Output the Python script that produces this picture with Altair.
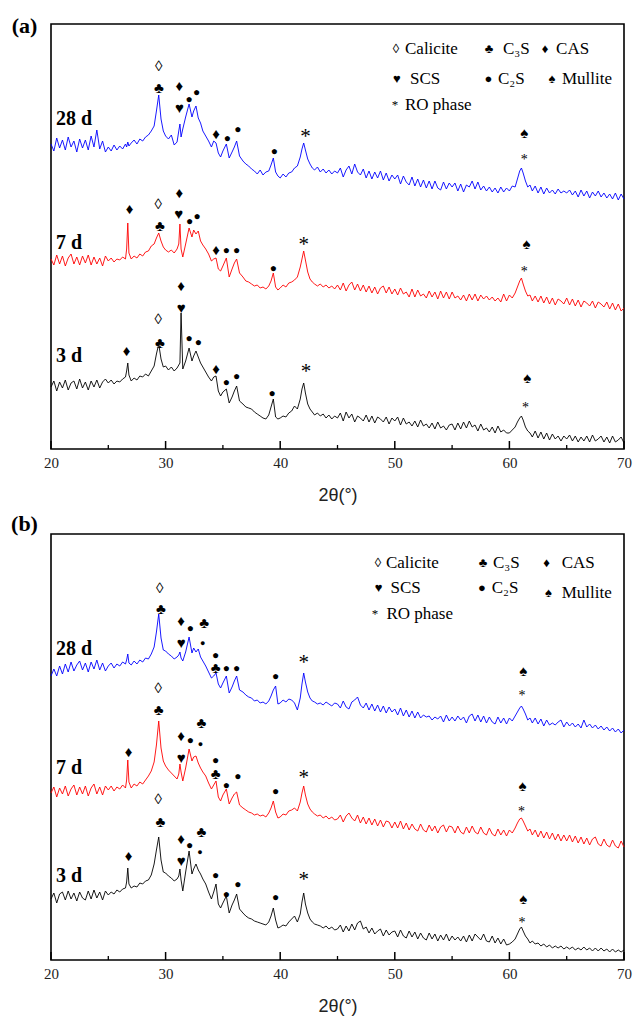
import altair as alt
import pandas as pd

# ---------------- shared 2-theta sampling positions (degrees) ----------------
TWO_THETA = [
    20.0, 20.25, 20.5, 20.75, 21.0, 21.25, 21.5, 21.75, 22.0, 22.25,
    22.5, 22.75, 23.0, 23.25, 23.5, 23.75, 24.0, 24.25, 24.5, 24.75,
    25.0, 25.25, 25.5, 25.75, 26.0, 26.25, 26.5, 26.6, 26.7, 26.8,
    27.0, 27.25, 27.5, 27.75, 28.0, 28.25, 28.5, 28.75, 29.0, 29.2, 29.4, 29.6, 29.8,
    30.0, 30.25, 30.5, 30.75, 31.0, 31.15, 31.25, 31.35, 31.5, 31.75, 32.05, 32.3,
    32.45, 32.65, 32.85, 33.05, 33.25, 33.5, 33.75, 34.0, 34.2, 34.4, 34.6, 34.8,
    35.0, 35.3, 35.55, 35.8, 36.0, 36.2, 36.45, 36.75, 37.0, 37.25, 37.5, 37.75,
    38.0, 38.25, 38.5, 38.75, 39.0, 39.2, 39.4, 39.6, 39.8,
    40.0, 40.25, 40.5, 40.75, 41.0, 41.25, 41.5, 41.75, 41.9, 42.05, 42.2, 42.4,
    42.6, 42.8, 43.0, 43.25, 43.5, 43.75, 44.0, 44.25, 44.5, 44.75,
    45.0, 45.25, 45.5, 45.75, 46.0, 46.25, 46.5, 46.75, 47.0, 47.25,
    47.5, 47.75, 48.0, 48.25, 48.5, 48.75, 49.0, 49.25, 49.5, 49.75,
    50.0, 50.25, 50.5, 50.75, 51.0, 51.25, 51.5, 51.75, 52.0, 52.25,
    52.5, 52.75, 53.0, 53.25, 53.5, 53.75, 54.0, 54.25, 54.5, 54.75,
    55.0, 55.25, 55.5, 55.75, 56.0, 56.25, 56.5, 56.75, 57.0, 57.25,
    57.5, 57.75, 58.0, 58.25, 58.5, 58.75, 59.0, 59.25, 59.5, 59.75,
    60.0, 60.25, 60.5, 60.7, 60.9, 61.05, 61.2, 61.4, 61.6, 61.8, 62.0,
    62.25, 62.5, 62.75, 63.0, 63.25, 63.5, 63.75, 64.0, 64.25, 64.5, 64.75,
    65.0, 65.25, 65.5, 65.75, 66.0, 66.25, 66.5, 66.75, 67.0, 67.25,
    67.5, 67.75, 68.0, 68.25, 68.5, 68.75, 69.0, 69.25, 69.5, 69.75, 70.0,
]

# ---------------- panel (a) intensities (arbitrary units) ----------------
A_28D = [
    305, 298, 311, 301, 309, 299, 312, 302, 308, 297, 310, 301, 309, 299, 313, 302, 319, 300, 308, 297,
    302, 298, 304, 299, 303, 300, 305, 302, 307, 303, 306, 309, 305, 310, 308, 312, 314, 318, 323, 338, 354, 330, 318,
    313, 310, 314, 304, 307, 318, 325, 312, 320, 332, 345, 332, 338, 343, 331, 326, 318, 313, 308, 302, 308, 306, 296, 292,
    298, 305, 291, 297, 302, 308, 293, 288, 285, 283, 280, 278, 275, 279, 274, 277, 278, 284, 291, 277, 273,
    271, 275, 272, 276, 277, 281, 283, 292, 300, 306, 299, 290, 285, 281, 279, 282, 277, 280, 276, 279, 275, 278,
    276, 281, 272, 279, 283, 275, 285, 277, 274, 280, 271, 278, 270, 277, 271, 278, 269, 276, 268, 274,
    270, 274, 265, 273, 267, 264, 272, 263, 270, 262, 269, 261, 268, 260, 268, 261, 259, 267, 260, 266,
    262, 266, 258, 265, 257, 264, 262, 268, 260, 267, 259, 263, 258, 262, 257, 261, 256, 262, 257, 261,
    258, 263, 262, 270, 278, 281, 276, 268, 262, 264, 258, 263, 256, 262, 255, 261, 256, 259, 255, 260, 256, 258,
    256, 259, 254, 258, 252, 259, 253, 258, 251, 257, 253, 258, 252, 256, 251, 255, 250, 256, 249, 255, 250,
]
A_7D = [
    190, 184, 194, 185, 193, 183, 191, 195, 185, 192, 184, 193, 186, 194, 184, 192, 185, 191, 183, 193,
    188, 191, 187, 190, 189, 192, 190, 200, 226, 196, 190, 193, 191, 195, 193, 197, 198, 203, 205, 211, 216, 208, 202,
    199, 197, 199, 196, 200, 205, 225, 200, 192, 205, 221, 212, 219, 215, 218, 208, 204, 200, 195, 188, 190, 191, 180, 178,
    183, 191, 172, 180, 186, 190, 176, 172, 168, 167, 165, 163, 164, 161, 162, 160, 163, 168, 176, 162, 159,
    161, 164, 162, 166, 167, 169, 172, 182, 190, 198, 189, 177, 170, 167, 165, 163, 165, 162, 164, 161, 163, 160,
    164, 159, 166, 158, 164, 167, 159, 165, 158, 164, 157, 163, 156, 162, 155, 161, 163, 156, 162, 155,
    160, 154, 161, 155, 157, 152, 160, 152, 159, 153, 155, 151, 158, 152, 157, 150, 158, 151, 157, 150,
    157, 151, 153, 149, 154, 148, 155, 149, 155, 148, 154, 150, 153, 149, 152, 148, 151, 147, 155, 148,
    154, 151, 156, 162, 168, 171, 165, 158, 153, 154, 148, 153, 147, 153, 146, 152, 145, 151, 144, 150, 148, 145,
    151, 144, 150, 143, 149, 142, 148, 146, 143, 148, 141, 147, 145, 142, 147, 140, 146, 139, 145, 138, 141,
]
A_3D = [
    62, 68, 58, 67, 61, 69, 59, 66, 68, 60, 70, 61, 67, 59, 68, 62, 69, 61, 67, 70,
    66, 69, 65, 68, 67, 70, 72, 78, 86, 74, 68, 71, 69, 73, 72, 75, 73, 78, 83, 95, 105, 90, 82,
    83, 79, 82, 78, 81, 84, 86, 136, 80, 88, 101, 88, 93, 98, 92, 86, 82, 77, 72, 68, 72, 73, 58, 53,
    57, 60, 46, 52, 58, 63, 48, 45, 42, 41, 40, 37, 35, 33, 31, 30, 34, 42, 50, 32, 30,
    31, 33, 32, 36, 38, 43, 40, 50, 60, 66, 56, 45, 40, 37, 34, 36, 33, 35, 31, 34, 30, 33,
    31, 36, 28, 37, 31, 35, 27, 33, 31, 28, 34, 27, 33, 26, 32, 30, 27, 32, 25, 31,
    28, 32, 24, 31, 25, 27, 23, 28, 22, 29, 23, 25, 21, 26, 20, 27, 21, 23, 19, 24,
    25, 19, 26, 20, 27, 21, 28, 22, 24, 18, 25, 19, 21, 17, 22, 16, 23, 17, 19, 16,
    16, 19, 22, 27, 31, 33, 29, 22, 18, 16, 12, 18, 11, 17, 10, 16, 9, 15, 10, 13, 8, 13,
    10, 14, 8, 13, 7, 12, 8, 13, 7, 14, 8, 10, 13, 7, 12, 6, 13, 7, 9, 12, 6,
]

# ---------------- panel (b) intensities ----------------
B_28D = [
    284, 291, 284, 294, 286, 296, 288, 298, 289, 295, 299, 290, 297, 288, 298, 291, 300, 290, 297, 289,
    294, 297, 292, 296, 294, 298, 296, 300, 306, 297, 295, 299, 296, 300, 298, 302, 301, 306, 313, 328, 346, 322, 310,
    309, 306, 304, 301, 303, 305, 308, 302, 299, 308, 323, 307, 312, 308, 311, 303, 299, 294, 288, 282, 284, 287, 276, 272,
    277, 284, 267, 273, 279, 284, 270, 268, 265, 263, 262, 259, 260, 257, 258, 256, 259, 264, 270, 274, 256,
    257, 260, 258, 261, 260, 257, 250, 262, 276, 287, 278, 268, 262, 259, 258, 256, 257, 255, 258, 256, 254, 257,
    256, 252, 259, 253, 251, 258, 260, 263, 255, 252, 257, 250, 256, 249, 255, 248, 254, 247, 253, 248,
    251, 245, 252, 244, 250, 243, 249, 242, 248, 242, 245, 243, 244, 240, 243, 241, 244, 238, 245, 239,
    243, 239, 244, 240, 243, 237, 244, 246, 239, 245, 238, 244, 237, 243, 238, 236, 243, 237, 242, 236,
    242, 239, 244, 248, 252, 254, 251, 246, 240, 242, 237, 242, 236, 241, 234, 240, 235, 237, 235, 238, 240, 233,
    238, 234, 237, 233, 236, 232, 240, 233, 236, 232, 235, 231, 234, 230, 233, 229, 232, 228, 231, 227, 230,
]
B_7D = [
    167, 173, 163, 172, 166, 174, 164, 171, 175, 165, 173, 166, 174, 164, 172, 176, 166, 173, 165, 174,
    170, 174, 169, 173, 171, 175, 172, 180, 200, 178, 172, 176, 174, 178, 176, 180, 184, 189, 198, 215, 239, 212, 199,
    194, 190, 187, 184, 181, 186, 196, 188, 179, 192, 211, 199, 203, 204, 197, 192, 188, 184, 177, 171, 175, 179, 163, 159,
    165, 171, 156, 162, 166, 168, 155, 152, 150, 148, 147, 145, 146, 144, 145, 143, 147, 152, 159, 148, 142,
    143, 146, 145, 149, 150, 152, 149, 158, 167, 174, 165, 156, 151, 148, 146, 144, 145, 142, 144, 141, 143, 140,
    141, 145, 138, 144, 147, 142, 139, 145, 137, 143, 136, 142, 135, 141, 134, 140, 133, 139, 138, 132,
    138, 132, 139, 131, 137, 130, 136, 131, 129, 136, 130, 128, 135, 129, 134, 127, 133, 135, 128, 134,
    133, 127, 134, 128, 126, 133, 127, 134, 128, 126, 133, 127, 125, 132, 126, 124, 131, 125, 130, 124,
    130, 127, 132, 137, 141, 142, 139, 134, 129, 131, 125, 130, 123, 129, 122, 128, 121, 127, 120, 126, 119, 125,
    119, 125, 118, 124, 117, 123, 116, 122, 115, 121, 123, 116, 114, 121, 115, 113, 120, 114, 112, 119, 113,
]
B_3D = [
    61, 67, 57, 66, 68, 60, 69, 61, 67, 59, 68, 62, 60, 69, 61, 70, 62, 68, 60, 69,
    65, 68, 66, 70, 68, 71, 72, 78, 92, 76, 72, 74, 73, 77, 76, 79, 80, 85, 96, 110, 123, 100, 88,
    87, 84, 82, 79, 81, 84, 91, 80, 69, 88, 109, 86, 91, 96, 90, 86, 81, 76, 68, 61, 68, 76, 56, 52,
    57, 64, 47, 55, 60, 66, 51, 47, 44, 42, 41, 39, 38, 37, 36, 35, 38, 44, 52, 40, 32,
    33, 35, 34, 38, 41, 44, 38, 46, 58, 67, 56, 47, 41, 38, 36, 35, 34, 32, 34, 31, 33, 30,
    31, 35, 28, 34, 29, 36, 30, 37, 39, 31, 33, 27, 32, 26, 29, 31, 24, 30, 25, 28,
    29, 23, 30, 24, 22, 29, 23, 28, 21, 27, 22, 20, 27, 21, 26, 19, 25, 20, 26, 19,
    24, 20, 23, 19, 24, 18, 25, 19, 26, 23, 20, 26, 19, 18, 24, 17, 22, 16, 21, 15,
    16, 18, 21, 26, 31, 33, 29, 24, 21, 17, 19, 16, 17, 14, 16, 13, 15, 12, 14, 12, 14, 11,
    13, 11, 13, 10, 12, 10, 13, 10, 12, 9, 12, 9, 12, 9, 11, 8, 11, 8, 10, 8, 10,
]

SERIES = ["28 d", "7 d", "3 d"]
SERIES_COLORS = ["#0000ff", "#ff0000", "#000000"]

# ---------------- peak markers: symbol, 2theta, height, font size ----------------
A_MARK_SYM = ["◊", "♣", "♦", "♥", "●", "●", "♦", "●", "●", "●", "♠",
              "♦", "◊", "♣", "♦", "♥", "●", "●", "♦", "●", "●", "●", "♠",
              "♦", "♥", "◊", "♣", "♦", "●", "●", "♦", "●", "●", "●", "♠"]
A_MARK_THETA = [29.4, 29.42, 31.2, 31.2, 32.05, 32.7, 34.4, 35.4, 36.3, 39.5, 61.3,
                26.85, 29.35, 29.5, 31.2, 31.15, 32.1, 32.74, 34.4, 35.3, 36.2, 39.4, 61.5,
                31.36, 31.36, 29.35, 29.5, 26.6, 32.05, 32.85, 34.4, 35.3, 36.2, 39.3, 61.56]
A_MARK_H = [383, 361, 363, 341, 350, 357, 315, 311, 320, 298, 316,
            240, 245, 223, 256, 235, 228, 233, 199, 199, 199, 181, 205,
            163, 141, 130, 106, 98, 111, 107, 80, 67, 73, 56, 71]
A_MARK_SIZE = [15, 15, 15, 15, 12, 12, 15, 12, 12, 12, 15,
               15, 15, 15, 15, 15, 12, 12, 15, 12, 12, 12, 15,
               15, 15, 15, 15, 15, 12, 12, 15, 12, 12, 12, 15]
A_STAR_THETA = [42.2, 61.3, 42.06, 61.3, 42.25, 61.4]
A_STAR_H = [316, 293, 208, 181, 81, 45]
A_STAR_SIZE = [21, 14, 21, 14, 21, 14]

B_MARK_SYM = ["◊", "♣", "♦", "♥", "●", "♣", "●", "●", "♣", "●", "●", "●", "♠",
              "◊", "♣", "♣", "♦", "●", "●", "♦", "♥", "●", "♣", "●", "●", "●", "♠",
              "◊", "♣", "♣", "♦", "●", "●", "♦", "♥", "●", "●", "●", "●", "♠"]
B_MARK_THETA = [29.49, 29.6, 31.36, 31.36, 32.17, 33.37, 33.23, 34.36, 34.36, 35.3, 36.2, 39.59, 61.2,
                29.35, 29.4, 33.12, 31.36, 32.17, 33.05, 26.77, 31.36, 34.36, 34.36, 35.3, 36.3, 39.6, 61.14,
                29.35, 29.55, 33.12, 31.36, 32.1, 33.0, 26.77, 31.36, 34.36, 36.3, 35.3, 39.6, 61.2]
B_MARK_H = [372, 351, 339, 317, 332, 337, 317, 305, 292, 292, 292, 284, 289,
            272, 250, 237, 224, 220, 216, 208, 202, 200, 186, 175, 184, 169, 174,
            161, 138, 128, 121, 115, 108, 104, 99, 85, 76, 66, 63, 61]
B_MARK_SIZE = [15, 15, 15, 15, 12, 15, 9, 12, 15, 12, 12, 12, 15,
               15, 15, 15, 15, 12, 9, 15, 15, 12, 15, 12, 12, 12, 15,
               15, 15, 15, 15, 12, 9, 15, 15, 12, 12, 12, 12, 15]
B_STAR_THETA = [42.05, 61.1, 42.05, 61.05, 42.05, 61.1]
B_STAR_H = [301, 268, 186, 152, 84, 41]
B_STAR_SIZE = [21, 14, 21, 14, 21, 14]

# ---------------- phase key (drawn inside each panel) ----------------
KEY_SYM = ["◊", "♣", "♦", "♥", "●", "♠", "*"]
KEY_TEXT = ["Calicite", "C₃S", "CAS", "SCS", "C₂S", "Mullite", "RO phase"]
A_KEY_SYM_THETA = [50.10, 58.22, 63.11, 50.19, 58.18, 63.72, 50.02]
A_KEY_TEXT_THETA = [50.89, 59.44, 64.07, 51.33, 59.0, 64.59, 50.89]
A_KEY_H = [400, 400, 400, 370, 370, 370, 344]
B_KEY_SYM_THETA = [48.53, 57.70, 63.24, 48.58, 57.61, 63.41, 48.27]
B_KEY_TEXT_THETA = [49.23, 58.57, 64.56, 49.62, 58.46, 64.56, 49.27]
B_KEY_H = [397, 397, 397, 372, 372, 367, 346]

A_LABEL_H = [330, 206, 93]
B_LABEL_H = [311, 192, 84]
LABEL_THETA = 20.44

MAJOR_TICKS = [20, 30, 40, 50, 60, 70]
MINOR_TICKS = [25, 35, 45, 55, 65]

SERIF = "Liberation Serif"
W = 573

XAXIS = alt.Axis(values=MAJOR_TICKS, format="d", ticks=False, domain=False, grid=False,
                 labelFont=SERIF, labelFontSize=15, labelColor="#222", labelPadding=6,
                 labelFlush=False, title="2θ(°)", titleFont="Liberation Sans",
                 titleFontSize=18, titleFontWeight="normal", titleColor="#222",
                 titlePadding=16)


def panel(curves, mk_sym, mk_th, mk_h, mk_sz, st_th, st_h, st_sz,
          key_sym_th, key_txt_th, key_h, label_h, tag, tag_y, height, anchor):
    xs = alt.Scale(domain=[20, 70], nice=False, zero=False)
    ys = alt.Scale(domain=[0, height], nice=False, zero=False)

    def X(field):
        return alt.X(field, scale=xs, axis=XAXIS)

    def Y(field):
        return alt.Y(field, scale=ys, axis=None)

    rows = []
    for name, vals in zip(SERIES, curves):
        assert len(vals) == len(TWO_THETA), (name, len(vals))
        for t, v in zip(TWO_THETA, vals):
            rows.append({"theta": t, "h": v, "series": name})
    df = pd.DataFrame(rows)

    lines = alt.Chart(df).mark_line(strokeWidth=0.9).encode(
        x=X("theta:Q"), y=Y("h:Q"),
        color=alt.Color("series:N", scale=alt.Scale(domain=SERIES, range=SERIES_COLORS), legend=None),
    )
    major = alt.Chart(pd.DataFrame({"theta": MAJOR_TICKS})).mark_rule(
        color="black", strokeWidth=1.5).encode(
        x=X("theta:Q"), y=alt.value(height), y2=alt.value(height - 8))
    minor = alt.Chart(pd.DataFrame({"theta": MINOR_TICKS})).mark_rule(
        color="black", strokeWidth=1.3).encode(
        x=X("theta:Q"), y=alt.value(height), y2=alt.value(height - 4))

    marks = alt.Chart(pd.DataFrame({"theta": mk_th, "h": mk_h, "s": mk_sym, "sz": mk_sz})).mark_text(
        font=SERIF, color="black", align="center", baseline="middle").encode(
        x=X("theta:Q"), y=Y("h:Q"), text="s:N", size=alt.Size("sz:Q", scale=None))
    stars = alt.Chart(pd.DataFrame({"theta": st_th, "h": st_h, "sz": st_sz, "s": ["*"] * len(st_th)})).mark_text(
        font=SERIF, color="black", align="center", baseline="middle", dy=4).encode(
        x=X("theta:Q"), y=Y("h:Q"), text="s:N", size=alt.Size("sz:Q", scale=None))

    key_df = pd.DataFrame({"ts": key_sym_th, "tt": key_txt_th, "h": key_h,
                           "sym": KEY_SYM, "txt": KEY_TEXT})
    key_sym = alt.Chart(key_df).mark_text(font=SERIF, fontSize=13, color="black",
                                          align="center", baseline="middle").encode(
        x=X("ts:Q"), y=Y("h:Q"), text="sym:N")
    key_txt = alt.Chart(key_df).mark_text(font=SERIF, fontSize=17, color="black",
                                          align="left", baseline="middle").encode(
        x=X("tt:Q"), y=Y("h:Q"), text="txt:N")

    labels = alt.Chart(pd.DataFrame({"theta": [LABEL_THETA] * 3, "h": label_h, "t": SERIES})).mark_text(
        font=SERIF, fontSize=20, fontWeight="bold", color="black", align="left", baseline="middle").encode(
        x=X("theta:Q"), y=Y("h:Q"), text="t:N")

    tag_mark = alt.Chart(pd.DataFrame({"t": [tag]})).mark_text(
        font=SERIF, fontSize=22, fontWeight="bold", color="black", align="center", baseline="middle").encode(
        text="t:N", x=alt.value(-26.5), y=alt.value(tag_y))

    layers = [lines, major, minor, marks, stars, key_sym, key_txt, labels, tag_mark]
    if anchor:
        corner = alt.Chart(pd.DataFrame({"a": [0]})).mark_rule(
            color="white", strokeWidth=1, opacity=0).encode(
            x=alt.value(-49.5), y=alt.value(-22.5), y2=alt.value(0))
        layers.append(corner)
    return alt.layer(*layers).properties(width=W, height=height)


pa = panel([A_28D, A_7D, A_3D], A_MARK_SYM, A_MARK_THETA, A_MARK_H, A_MARK_SIZE,
           A_STAR_THETA, A_STAR_H, A_STAR_SIZE,
           A_KEY_SYM_THETA, A_KEY_TEXT_THETA, A_KEY_H, A_LABEL_H, "(a)", 2, 425, True)
pb = panel([B_28D, B_7D, B_3D], B_MARK_SYM, B_MARK_THETA, B_MARK_H, B_MARK_SIZE,
           B_STAR_THETA, B_STAR_H, B_STAR_SIZE,
           B_KEY_SYM_THETA, B_KEY_TEXT_THETA, B_KEY_H, B_LABEL_H, "(b)", -10, 426, False)

chart = alt.VConcatChart(vconcat=[pa, pb], spacing=85, bounds="flush",
                         padding={"left": 0, "top": 0, "right": 0, "bottom": 0}
                         ).configure(background="white"
                         ).configure_view(stroke="black", strokeWidth=1.6)

chart.save("out.html", embed_options={"renderer": "svg", "actions": False})
